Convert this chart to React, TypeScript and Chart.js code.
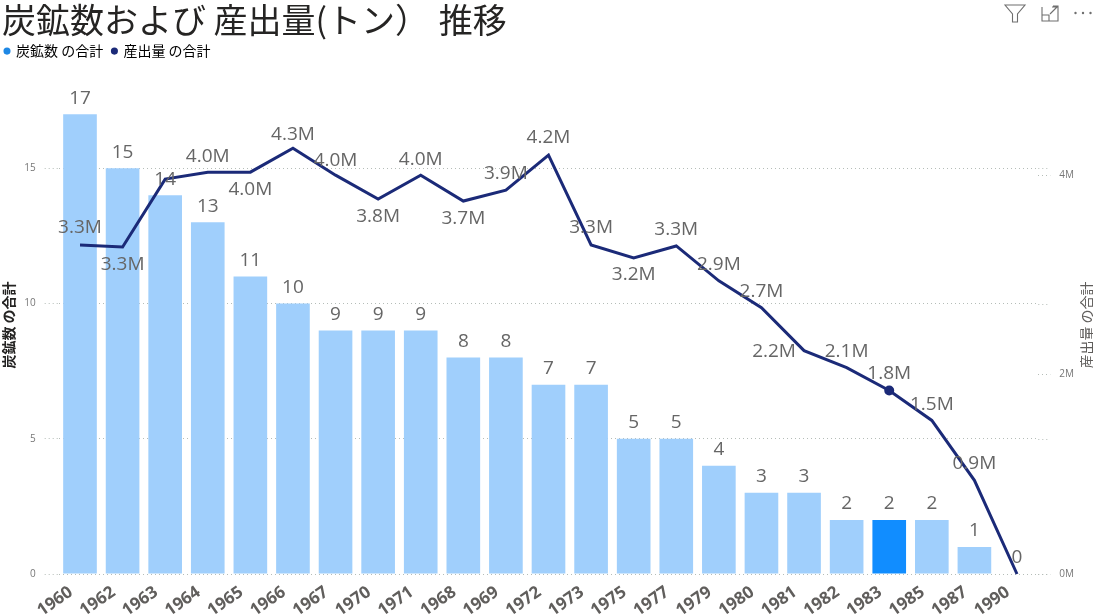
import React, { useEffect, useRef } from "react";
import { Chart, registerables } from "chart.js";

Chart.register(...registerables);

const years = ["1960","1962","1963","1964","1965","1966","1967","1970","1971","1968","1969","1972","1973","1975","1977","1979","1980","1981","1982","1983","1985","1987","1990"];
const mineCounts = [17,15,14,13,11,10,9,9,9,8,8,7,7,5,5,4,3,3,2,2,2,1,0];
const outputTons = [3300000,3280000,3960000,4030000,4030000,4270000,4000000,3760000,4000000,3740000,3850000,4200000,3300000,3170000,3290000,2940000,2670000,2240000,2070000,1840000,1540000,940000,0];
const outputLabels = ["3.3M","3.3M","","4.0M","4.0M","4.3M","4.0M","3.8M","4.0M","3.7M","3.9M","4.2M","3.3M","3.2M","3.3M","2.9M","2.7M","2.2M","2.1M","1.8M","1.5M","0.9M",""];
// label placement relative to each line point
const labelDx = [0,0,0,0,0,0,0,0,0,0,0,0,0,0,0,0,0,-30,0,0,0,0,0];
const labelDy = [-17,18,0,-16,17,-14,-15,18,-16,18,-17,-18,-17,17,-16,-16,-16,1,-16,-17,-16,-17,0];
const selectedIndex = 19;

const barColor = "#A0CFFC";
const selectedColor = "#118DFF";
const lineColor = "#1B2A78";
const gridColor = "#B5BDB8";
const labelFont = '19px "Open Sans"';

const labelsPlugin = {
  id: "pointLabels",
  afterDatasetsDraw(chart: any) {
    const { ctx } = chart;
    const bars = chart.getDatasetMeta(0).data;
    const pts = chart.getDatasetMeta(1).data;
    ctx.save();
    ctx.font = labelFont;
    ctx.fillStyle = "#666666";
    ctx.textAlign = "center";
    ctx.textBaseline = "middle";
    bars.forEach((b: any, i: number) => ctx.fillText(String(mineCounts[i]), b.x, b.y - 16));
    pts.forEach((p: any, i: number) => {
      if (outputLabels[i]) ctx.fillText(outputLabels[i], p.x + labelDx[i], p.y + labelDy[i]);
    });
    ctx.restore();
  },
};

const gridExtendPlugin = {
  id: "gridExtend",
  beforeDatasetsDraw(chart: any) {
    const { ctx, chartArea, scales } = chart;
    ctx.save();
    ctx.strokeStyle = gridColor;
    ctx.lineWidth = 1;
    ctx.setLineDash([1, 3]);
    scales.y.ticks.forEach((t: any) => {
      const y = Math.round(scales.y.getPixelForValue(t.value)) + 0.5;
      ctx.beginPath();
      ctx.moveTo(chartArea.right, y);
      ctx.lineTo(chartArea.right + 12, y);
      ctx.stroke();
    });
    ctx.restore();
  },
};

const axisTitlesPlugin = {
  id: "axisTitles",
  afterDraw(chart: any) {
    const { ctx } = chart;
    const draw = (text: string, x: number, y: number, font: string, color: string) => {
      ctx.save();
      ctx.translate(x, y);
      ctx.rotate(-Math.PI / 2);
      ctx.font = font;
      ctx.fillStyle = color;
      ctx.textAlign = "center";
      ctx.textBaseline = "middle";
      ctx.fillText(text, 0, 0);
      ctx.restore();
    };
    draw("炭鉱数 の合計", 9, 325, 'bold 14px "Noto Sans CJK JP"', "#252423");
    draw("産出量 の合計", 1087, 325, '14px "Noto Sans CJK JP"', "#605E5C");
  },
};

const legendSpacePlugin = {
  id: "legendSpace",
  afterInit(chart: any) {
    const legend = chart.legend;
    const fit = legend.fit;
    legend.fit = function () {
      fit.call(this);
      this.height += 19;
    };
  },
};

export default function App() {
  const ref = useRef<HTMLCanvasElement>(null);
  useEffect(() => {
    document.body.style.margin = "0";
    document.body.style.background = "#fff";
    const chart = new Chart(ref.current!, {
      data: {
        labels: years,
        datasets: [
          {
            type: "bar",
            label: "炭鉱数 の合計",
            data: mineCounts,
            yAxisID: "y",
            backgroundColor: years.map((_, i) => (i === selectedIndex ? selectedColor : barColor)),
            barPercentage: 0.79,
            categoryPercentage: 1,
            order: 1,
          },
          {
            type: "line",
            label: "産出量 の合計",
            data: outputTons,
            yAxisID: "y1",
            borderColor: lineColor,
            backgroundColor: lineColor,
            borderWidth: 3,
            tension: 0,
            pointRadius: years.map((_, i) => (i === selectedIndex ? 3.5 : 0)),
            pointHoverRadius: 4,
            order: 0,
            clip: false,
          },
        ] as any,
      },
      options: {
        animation: false,
        responsive: false,
        devicePixelRatio: 1,
        layout: { padding: { left: 2 } },
        scales: {
          x: {
            grid: { display: false },
            border: { display: false },
            afterFit: (s: any) => { s.height = 41; },
            ticks: {
              autoSkip: false,
              maxRotation: 35,
              minRotation: 35,
              color: "#605E5C",
              padding: 0,
              labelOffset: -9,
              font: { family: '"Open Sans"', size: 17, weight: "bold" },
            },
          },
          y: {
            position: "left",
            min: 0,
            max: 18,
            border: { display: false, dash: [1, 3] },
            afterFit: (s: any) => { s.width = 56.7; },
            afterBuildTicks: (s: any) => { s.ticks = [0,5,10,15].map((value) => ({ value })); },
            grid: { color: gridColor, tickLength: 14, tickColor: gridColor, tickBorderDash: [1, 3] },
            ticks: { color: "#777777", padding: 9, font: { family: '"Open Sans"', size: 10 } },
          },
          y1: {
            position: "right",
            min: 0,
            max: 4883000,
            border: { display: false },
            afterFit: (s: any) => { s.width = 54.7; },
            afterBuildTicks: (s: any) => { s.ticks = [0,2000000,4000000].map((value) => ({ value })); },
            grid: { drawOnChartArea: false, color: gridColor, tickLength: 12, tickBorderDash: [1, 3] },
            ticks: {
              color: "#777777",
              padding: 9,
              font: { family: '"Open Sans"', size: 10 },
              callback: (v: any) => `${Number(v) / 1000000}M`,
            },
          },
        },
        plugins: {
          title: {
            display: true,
            text: "炭鉱数および 産出量(トン） \u200A推移",
            align: "start",
            color: "#252423",
            padding: { top: 1, bottom: 1 },
            font: { family: '"Noto Sans CJK JP"', size: 34, weight: "normal", lineHeight: 1.15 },
          },
          legend: {
            display: true,
            position: "top",
            align: "start",
            labels: {
              usePointStyle: true,
              boxWidth: 4,
              boxHeight: 5,
              padding: 3,
              color: "#252423",
              font: { family: '"Noto Sans CJK JP"', size: 14 },
              generateLabels: () => [
                { text: "炭鉱数 の合計\u00A0\u00A0", fillStyle: "#1E88E5", strokeStyle: "#1E88E5", pointStyle: "circle", datasetIndex: 0, lineWidth: 0 },
                { text: "産出量 の合計", fillStyle: lineColor, strokeStyle: lineColor, pointStyle: "circle", datasetIndex: 1, lineWidth: 0 },
              ],
            },
          },
          tooltip: { enabled: false },
        },
      } as any,
      plugins: [labelsPlugin, gridExtendPlugin, axisTitlesPlugin, legendSpacePlugin],
    });
    return () => chart.destroy();
  }, []);
  return (
    <div style={{ position: "relative", width: 1093, height: 615, overflow: "hidden", background: "#fff" }}>
      <canvas ref={ref} width={1093} height={615} style={{ display: "block" }} />
      <svg width={100} height={30} viewBox="0 0 100 30" style={{ position: "absolute", left: 993, top: 0 }} fill="none" stroke="#6E6E6E" strokeWidth={1.1}>
        <path d="M12 5 H32 L24.5 14 V22 H19.5 V14 Z" />
        <path d="M49 7 V21 H65 V7 H59 M49 15 H56 V21 M57 14 L65 6 M60 6 H65 V11" />
        <g fill="#6E6E6E" stroke="none">
          <circle cx={82.5} cy={13} r={1.2} />
          <circle cx={90} cy={13} r={1.2} />
          <circle cx={97.5} cy={13} r={1.2} />
        </g>
      </svg>
    </div>
  );
}
